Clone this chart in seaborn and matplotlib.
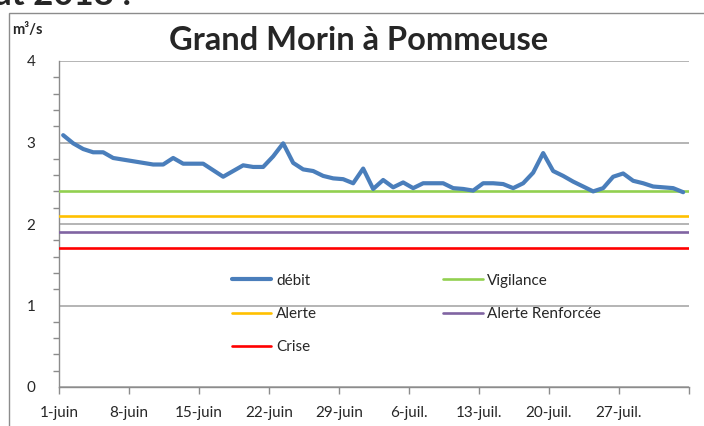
import pandas as pd
import matplotlib
matplotlib.use('Agg')
import matplotlib.pyplot as plt
import matplotlib.patches as mpatches
from matplotlib.ticker import MultipleLocator
import seaborn as sns

# daily discharge, m3/s
dates = pd.date_range('2018-06-01 10:00', periods=63, freq='D')
debit = [3.09, 2.99, 2.92, 2.88, 2.88, 2.81, 2.79, 2.77, 2.75, 2.73,
         2.73, 2.81, 2.74, 2.74, 2.74, 2.66, 2.58, 2.65, 2.72, 2.70,
         2.70, 2.83, 2.99, 2.75, 2.67, 2.65, 2.59, 2.56, 2.55, 2.50,
         2.68, 2.43, 2.54, 2.45, 2.51, 2.44, 2.50, 2.50, 2.50, 2.44,
         2.43, 2.41, 2.50, 2.50, 2.49, 2.44, 2.50, 2.63, 2.87, 2.65,
         2.59, 2.52, 2.46, 2.40, 2.44, 2.58, 2.62, 2.53, 2.50, 2.46,
         2.45, 2.44, 2.39]

seuil_noms = ['Vigilance', 'Alerte', 'Alerte Renforcée', 'Crise']
seuil_vals = [2.4, 2.1, 1.9, 1.7]
seuil_cols = ['#92d050', '#ffc000', '#8064a2', '#ff0000']

tick_dates = pd.date_range('2018-06-01', '2018-08-03', freq='7D')
tick_labels = ['1-juin', '8-juin', '15-juin', '22-juin', '29-juin',
               '6-juil.', '13-juil.', '20-juil.', '27-juil.', '']

sns.set_style('white')
plt.rcParams['font.family'] = ['Lato', 'DejaVu Sans']

fig = plt.figure(figsize=(7.04, 4.26), dpi=100)
W, H = 704, 426
ax = fig.add_axes([59 / W, 1 - 387 / H, 630 / W, 326 / H])

# chart area frame
fig.patches.append(mpatches.Rectangle((9 / W, -0.1), 1.2, 1 - 13 / H + 0.1,
                                      transform=fig.transFigure, fill=False,
                                      edgecolor='#8c8c8c', linewidth=1.0))

df = pd.DataFrame({'date': dates, 'debit': debit})
sns.lineplot(data=df, x='date', y='debit', ax=ax, color='#4a7ebb',
             linewidth=3.0, label='débit', zorder=5)

for nom, val, col in zip(seuil_noms, seuil_vals, seuil_cols):
    ax.axhline(val, color=col, linewidth=1.9, label=nom, zorder=4)

ax.set_xlim(pd.Timestamp('2018-06-01'), pd.Timestamp('2018-08-03'))
ax.set_ylim(0, 4)
ax.set_xticks(tick_dates)
ax.set_xticklabels(tick_labels)
ax.yaxis.set_major_locator(MultipleLocator(1))
ax.yaxis.set_minor_locator(MultipleLocator(0.2))
ax.set_xlabel('')
ax.set_ylabel('')

ax.grid(axis='y', which='major', color='#a0a0a0', linewidth=1.1)
ax.grid(axis='x', visible=False)
for s in ['top', 'right']:
    ax.spines[s].set_visible(False)
for s in ['left', 'bottom']:
    ax.spines[s].set_color('#8c8c8c')
    ax.spines[s].set_linewidth(1.0)

ax.tick_params(axis='y', which='major', direction='out', length=6, width=1,
               color='#8c8c8c', pad=11, labelsize=11)
ax.tick_params(axis='y', which='minor', direction='out', length=4, width=1,
               color='#8c8c8c', left=True)
ax.tick_params(axis='x', which='major', direction='out', length=5, width=1,
               color='#8c8c8c', pad=9, labelsize=11, bottom=True)

lh, ll = ax.get_legend_handles_labels()
order = ['débit', 'Alerte', 'Crise', 'Vigilance', 'Alerte Renforcée']
hmap = dict(zip(ll, lh))
ax.legend([hmap[k] for k in order], order, ncol=2, frameon=False,
          loc='upper left', bbox_to_anchor=(218 / W, 1 - 260 / H),
          bbox_transform=fig.transFigure, fontsize=11, handlelength=2.6,
          handletextpad=0.3, columnspacing=8.25, labelspacing=1.25)

fig.text(359 / W, 1 - 40 / H, 'Grand Morin à Pommeuse', ha='center',
         va='center', fontsize=23.5, fontweight='bold')
fig.text(12 / W, 1 - 30 / H, 'm³/s', ha='left', va='center',
         fontsize=10.5, fontweight='bold')
fig.text(-6 / W, 1 - 5 / H, 'at 2018 :', ha='left', va='baseline',
         fontsize=25, fontweight='bold')

fig.savefig('out.png', dpi=100)
